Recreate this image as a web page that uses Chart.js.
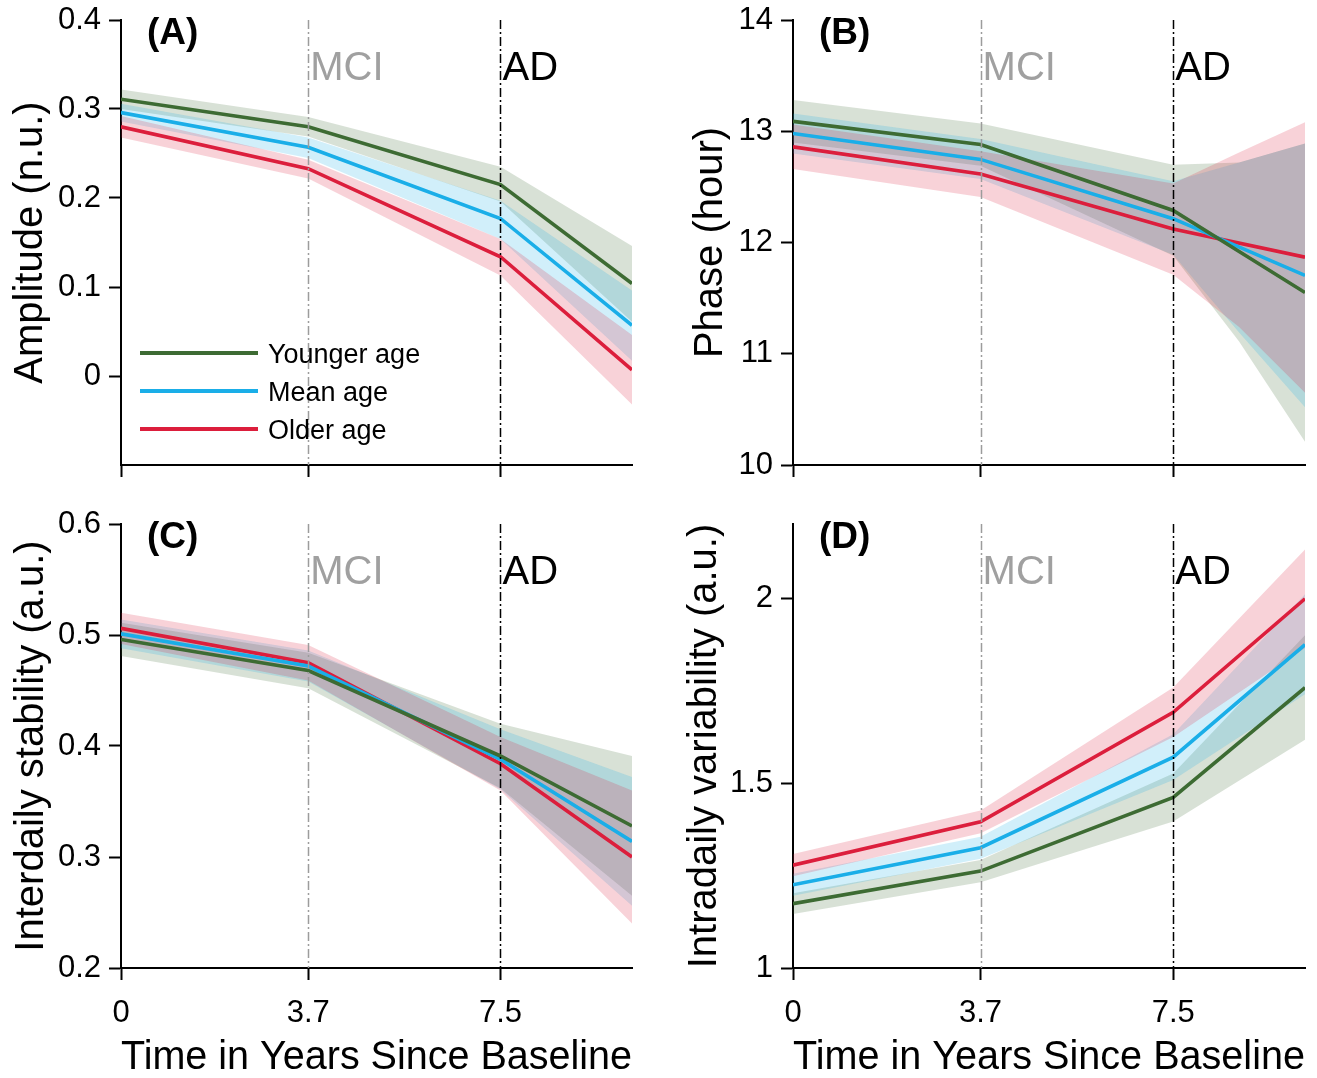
<!DOCTYPE html>
<html>
<head>
<meta charset="utf-8">
<script src="https://cdn.jsdelivr.net/npm/chart.js@4.4.0/dist/chart.umd.min.js"></script>
<style>
  body { margin: 0; background: #fff; }
  #wrap { position: relative; width: 1317px; height: 1078px; }
  .panel { position: absolute; }
</style>
</head>
<body>
<div id="wrap">
  <div class="panel" style="left:0;top:0"><canvas id="chartA" width="660" height="490"></canvas></div>
  <div class="panel" style="left:660px;top:0"><canvas id="chartB" width="657" height="490"></canvas></div>
  <div class="panel" style="left:0;top:490px"><canvas id="chartC" width="660" height="588"></canvas></div>
  <div class="panel" style="left:660px;top:490px"><canvas id="chartD" width="657" height="588"></canvas></div>
</div>
<script>
const FONT = "'Liberation Sans', Arial, Helvetica, sans-serif";

// years since baseline
const timePoints = [0, 3.7, 7.5, 10.1];
const bandTimesB = [0, 3.7, 7.5, 8.8, 10.1];
const xTicks = [0, 3.7, 7.5];
const seriesNames = ['Younger age', 'Mean age', 'Older age'];
const stageYears = [3.7, 7.5];
const stageLabels = ['MCI', 'AD'];

// (A) Amplitude
const ampYTicks = [0, 0.1, 0.2, 0.3, 0.4];
const ampYounger = [0.311, 0.280, 0.215, 0.104];
const ampYoungerLo = [0.300, 0.269, 0.196, 0.061];
const ampYoungerHi = [0.322, 0.291, 0.235, 0.146];
const ampMean = [0.296, 0.257, 0.177, 0.057];
const ampMeanLo = [0.286, 0.245, 0.154, 0.017];
const ampMeanHi = [0.306, 0.268, 0.197, 0.096];
const ampOlder = [0.280, 0.233, 0.134, 0.007];
const ampOlderLo = [0.268, 0.222, 0.113, -0.032];
const ampOlderHi = [0.292, 0.243, 0.154, 0.046];

// (B) Phase
const phaseYTicks = [10, 11, 12, 13, 14];
const phaseYounger = [13.089, 12.881, 12.288, 11.550];
const phaseYoungerLo = [12.90, 12.69, 11.88, 11.11, 10.21];
const phaseYoungerHi = [13.28, 13.07, 12.70, 12.72, 12.89];
const phaseMean = [12.980, 12.747, 12.214, 11.704];
const phaseMeanLo = [12.80, 12.57, 11.89, 11.19, 10.52];
const phaseMeanHi = [13.16, 12.93, 12.55, 12.72, 12.89];
const phaseOlder = [12.860, 12.616, 12.121, 11.868];
const phaseOlderLo = [12.66, 12.41, 11.71, 11.24, 10.65];
const phaseOlderHi = [13.06, 12.82, 12.53, 12.81, 13.08];

// (C) Interdaily stability
const isYTicks = [0.2, 0.3, 0.4, 0.5, 0.6];
const isYounger = [0.496, 0.468, 0.391, 0.328];
const isYoungerLo = [0.481, 0.452, 0.362, 0.265];
const isYoungerHi = [0.511, 0.484, 0.420, 0.391];
const isMean = [0.501, 0.472, 0.388, 0.314];
const isMeanLo = [0.488, 0.458, 0.361, 0.256];
const isMeanHi = [0.514, 0.486, 0.415, 0.372];
const isOlder = [0.506, 0.475, 0.384, 0.300];
const isOlderLo = [0.492, 0.459, 0.360, 0.240];
const isOlderHi = [0.520, 0.491, 0.408, 0.360];

// (D) Intradaily variability
const ivYTicks = [1, 1.5, 2];
const ivYounger = [1.174, 1.262, 1.461, 1.758];
const ivYoungerLo = [1.146, 1.232, 1.396, 1.617];
const ivYoungerHi = [1.202, 1.292, 1.526, 1.899];
const ivMean = [1.225, 1.325, 1.570, 1.874];
const ivMeanLo = [1.195, 1.295, 1.508, 1.740];
const ivMeanHi = [1.255, 1.355, 1.632, 2.010];
const ivOlder = [1.278, 1.395, 1.691, 1.998];
const ivOlderLo = [1.248, 1.364, 1.624, 1.865];
const ivOlderHi = [1.308, 1.426, 1.758, 2.131];

const lineColors = ['#3d6b33', '#1aaee8', '#dc1e3c'];
const bandColors = ['rgba(61,107,51,0.2)', 'rgba(26,174,232,0.2)', 'rgba(220,30,60,0.2)'];

function toPoints(xs, ys) {
    return xs.map((x, i) => ({ x: x, y: ys[i] }));
}

// panel letter, stage lines and labels, legend
const decorPlugin = {
    id: 'decor',
    afterDatasetsDraw(chart, args, o) {
        const ctx = chart.ctx;
        const area = chart.chartArea;
        const xs = chart.scales.x;
        ctx.save();
        ctx.lineWidth = 1.5;
        ctx.setLineDash([9, 3, 2, 3]);
        stageYears.forEach((yr, i) => {
            const px = Math.round(xs.getPixelForValue(yr)) + 0.5;
            ctx.strokeStyle = i === 0 ? '#9c9c9c' : '#000';
            ctx.beginPath();
            ctx.moveTo(px, area.top);
            ctx.lineTo(px, area.bottom);
            ctx.stroke();
        });
        ctx.setLineDash([]);
        ctx.textBaseline = 'alphabetic';
        ctx.textAlign = 'left';
        ctx.font = '40px ' + FONT;
        stageYears.forEach((yr, i) => {
            ctx.fillStyle = i === 0 ? '#a0a0a0' : '#000';
            ctx.fillText(stageLabels[i], xs.getPixelForValue(yr) + 2, area.top + 60);
        });
        ctx.font = 'bold 37px ' + FONT;
        ctx.fillStyle = '#000';
        ctx.fillText(o.letter, area.left + 26, area.top + 24);

        if (o.legend) {
            ctx.font = '27px ' + FONT;
            seriesNames.forEach((name, k) => {
                const y = area.top + 333 + 38 * k;
                ctx.strokeStyle = lineColors[k];
                ctx.lineWidth = 4;
                ctx.beginPath();
                ctx.moveTo(area.left + 19, y);
                ctx.lineTo(area.left + 137, y);
                ctx.stroke();
                ctx.fillStyle = '#000';
                ctx.fillText(name, area.left + 147, y + 10);
            });
        }
        ctx.restore();
    }
};

function makePanel(id, p) {
    const datasets = [];
    // bands: green drawn first, red last, lines on top
    p.series.forEach((s, k) => {
        datasets.push({ data: toPoints(p.bandX, s.hi), borderColor: 'rgba(0,0,0,0)', borderWidth: 0, pointRadius: 0, fill: false, order: 3 - k });
        datasets.push({ data: toPoints(p.bandX, s.lo), borderColor: 'rgba(0,0,0,0)', borderWidth: 0, pointRadius: 0, fill: '-1', backgroundColor: bandColors[k], order: 3 - k });
    });
    p.series.forEach((s, k) => {
        datasets.push({ label: seriesNames[k], data: toPoints(timePoints, s.line), borderColor: lineColors[k], borderWidth: 3.6, pointRadius: 0, fill: false, order: 0 });
    });

    new Chart(document.getElementById(id), {
        type: 'line',
        data: { datasets: datasets },
        plugins: [decorPlugin],
        options: {
            responsive: false,
            animation: false,
            layout: { padding: { left: 0, right: p.padRight, top: p.padTop, bottom: 0 } },
            plugins: {
                legend: { display: false },
                tooltip: { enabled: false },
                decor: { letter: p.letter, legend: p.legend }
            },
            scales: {
                x: {
                    type: 'linear',
                    min: 0,
                    max: 10.1,
                    afterBuildTicks: s => { s.ticks = xTicks.map(v => ({ value: v })); },
                    afterFit: s => { s.height = p.xHeight; s.paddingLeft = 0; s.paddingRight = 0; },
                    border: { color: '#000', width: 2 },
                    grid: { drawOnChartArea: false, tickLength: 12, tickColor: '#000', tickWidth: 2 },
                    ticks: { display: p.showX, color: '#000', font: { family: FONT, size: 31 }, padding: 15, maxRotation: 0, callback: v => String(v) },
                    title: { display: p.showX, text: 'Time in Years Since Baseline', color: '#000', font: { family: FONT, size: 40, lineHeight: 1 }, padding: 0 }
                },
                y: {
                    type: 'linear',
                    min: p.yMin,
                    max: p.yMax,
                    afterBuildTicks: s => { s.ticks = p.yTicks.map(v => ({ value: v })); },
                    afterFit: s => { s.width = p.yWidth; s.paddingTop = 0; s.paddingBottom = 0; },
                    border: { color: '#000', width: 2 },
                    grid: { drawOnChartArea: false, tickLength: 12, tickColor: '#000', tickWidth: 2 },
                    ticks: { color: '#000', font: { family: FONT, size: 31 }, padding: 8, callback: v => String(v) },
                    title: { display: true, text: p.yTitle, color: '#000', font: { family: FONT, size: 40, lineHeight: 1 }, padding: { top: p.yTitlePad, bottom: 0 } }
                }
            }
        }
    });
}

makePanel('chartA', {
    letter: '(A)', legend: true, showX: false,
    yTitle: 'Amplitude (n.u.)', yMin: -0.1, yMax: 0.4, yTicks: ampYTicks,
    yWidth: 121, yTitlePad: 11, padRight: 28, padTop: 20, xHeight: 25,
    bandX: timePoints,
    series: [
        { line: ampYounger, lo: ampYoungerLo, hi: ampYoungerHi },
        { line: ampMean, lo: ampMeanLo, hi: ampMeanHi },
        { line: ampOlder, lo: ampOlderLo, hi: ampOlderHi }
    ]
});

makePanel('chartB', {
    letter: '(B)', legend: false, showX: false,
    yTitle: 'Phase (hour)', yMin: 10, yMax: 14, yTicks: phaseYTicks,
    yWidth: 133, yTitlePad: 31, padRight: 12, padTop: 20, xHeight: 25,
    bandX: bandTimesB,
    series: [
        { line: phaseYounger, lo: phaseYoungerLo, hi: phaseYoungerHi },
        { line: phaseMean, lo: phaseMeanLo, hi: phaseMeanHi },
        { line: phaseOlder, lo: phaseOlderLo, hi: phaseOlderHi }
    ]
});

makePanel('chartC', {
    letter: '(C)', legend: false, showX: true,
    yTitle: 'Interdaily stability (a.u.)', yMin: 0.2, yMax: 0.6, yTicks: isYTicks,
    yWidth: 121, yTitlePad: 12, padRight: 28, padTop: 34, xHeight: 110,
    bandX: timePoints,
    series: [
        { line: isYounger, lo: isYoungerLo, hi: isYoungerHi },
        { line: isMean, lo: isMeanLo, hi: isMeanHi },
        { line: isOlder, lo: isOlderLo, hi: isOlderHi }
    ]
});

makePanel('chartD', {
    letter: '(D)', legend: false, showX: true,
    yTitle: 'Intradaily variability (a.u.)', yMin: 1, yMax: 2.2, yTicks: ivYTicks,
    yWidth: 133, yTitlePad: 25, padRight: 12, padTop: 34, xHeight: 110,
    bandX: timePoints,
    series: [
        { line: ivYounger, lo: ivYoungerLo, hi: ivYoungerHi },
        { line: ivMean, lo: ivMeanLo, hi: ivMeanHi },
        { line: ivOlder, lo: ivOlderLo, hi: ivOlderHi }
    ]
});
</script>
</body>
</html>
